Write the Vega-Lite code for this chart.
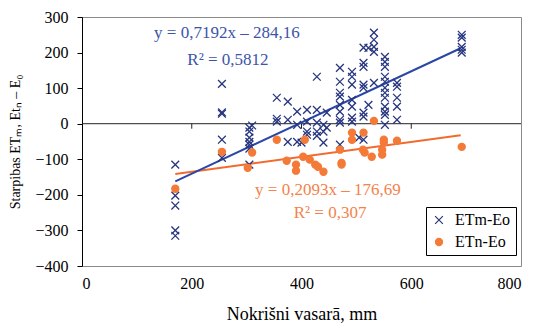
{
  "$schema": "https://vega.github.io/schema/vega-lite/v6.json",
  "width": 439,
  "height": 249,
  "autosize": {"type": "none"},
  "padding": {"left": 82, "top": 17, "right": 15, "bottom": 66},
  "background": "white",
  "config": {
    "view": {"stroke": "#8a8a8a", "strokeWidth": 1},
    "axis": {"grid": false, "labelFont": "Liberation Serif", "labelFontSize": 16, "labelColor": "black", "titleFont": "Liberation Serif", "titleFontSize": 16, "titleFontWeight": "normal", "titleColor": "black", "domainColor": "black", "tickColor": "black"},
    "legend": {"labelFont": "Liberation Serif", "labelFontSize": 16, "labelColor": "black"}
  },
  "datasets": {
    "pts": [
      {"series": "ETm-Eo", "x": 170, "y": -115}, {"series": "ETm-Eo", "x": 170, "y": -202}, {"series": "ETm-Eo", "x": 170, "y": -230}, {"series": "ETm-Eo", "x": 170, "y": -300}, {"series": "ETm-Eo", "x": 170, "y": -315},
      {"series": "ETm-Eo", "x": 255, "y": 112}, {"series": "ETm-Eo", "x": 255, "y": 28}, {"series": "ETm-Eo", "x": 255, "y": 32}, {"series": "ETm-Eo", "x": 255, "y": -45}, {"series": "ETm-Eo", "x": 255, "y": -96},
      {"series": "ETm-Eo", "x": 305, "y": -11}, {"series": "ETm-Eo", "x": 305, "y": -22}, {"series": "ETm-Eo", "x": 305, "y": -39}, {"series": "ETm-Eo", "x": 305, "y": -51}, {"series": "ETm-Eo", "x": 305, "y": -59}, {"series": "ETm-Eo", "x": 305, "y": -70}, {"series": "ETm-Eo", "x": 305, "y": -115},
      {"series": "ETm-Eo", "x": 310, "y": -5},
      {"series": "ETm-Eo", "x": 355, "y": 73}, {"series": "ETm-Eo", "x": 355, "y": 14}, {"series": "ETm-Eo", "x": 355, "y": 6},
      {"series": "ETm-Eo", "x": 375, "y": 62}, {"series": "ETm-Eo", "x": 375, "y": 11}, {"series": "ETm-Eo", "x": 375, "y": -51},
      {"series": "ETm-Eo", "x": 392, "y": 34}, {"series": "ETm-Eo", "x": 392, "y": -3}, {"series": "ETm-Eo", "x": 392, "y": -51},
      {"series": "ETm-Eo", "x": 400, "y": -53},
      {"series": "ETm-Eo", "x": 410, "y": 39}, {"series": "ETm-Eo", "x": 410, "y": 6}, {"series": "ETm-Eo", "x": 410, "y": -22}, {"series": "ETm-Eo", "x": 410, "y": -31},
      {"series": "ETm-Eo", "x": 428, "y": 132}, {"series": "ETm-Eo", "x": 428, "y": 39}, {"series": "ETm-Eo", "x": 428, "y": 3}, {"series": "ETm-Eo", "x": 428, "y": -22}, {"series": "ETm-Eo", "x": 428, "y": -34},
      {"series": "ETm-Eo", "x": 440, "y": -22}, {"series": "ETm-Eo", "x": 440, "y": -3}, {"series": "ETm-Eo", "x": 440, "y": -53},
      {"series": "ETm-Eo", "x": 446, "y": 31}, {"series": "ETm-Eo", "x": 446, "y": -11},
      {"series": "ETm-Eo", "x": 470, "y": 157}, {"series": "ETm-Eo", "x": 470, "y": 118}, {"series": "ETm-Eo", "x": 470, "y": 87}, {"series": "ETm-Eo", "x": 470, "y": 76}, {"series": "ETm-Eo", "x": 470, "y": 53}, {"series": "ETm-Eo", "x": 470, "y": 34}, {"series": "ETm-Eo", "x": 470, "y": 11}, {"series": "ETm-Eo", "x": 470, "y": 3}, {"series": "ETm-Eo", "x": 470, "y": -59},
      {"series": "ETm-Eo", "x": 492, "y": 146}, {"series": "ETm-Eo", "x": 492, "y": 132}, {"series": "ETm-Eo", "x": 492, "y": 110}, {"series": "ETm-Eo", "x": 492, "y": 67}, {"series": "ETm-Eo", "x": 492, "y": 48}, {"series": "ETm-Eo", "x": 492, "y": 17}, {"series": "ETm-Eo", "x": 492, "y": 6},
      {"series": "ETm-Eo", "x": 505, "y": -39},
      {"series": "ETm-Eo", "x": 513, "y": 214}, {"series": "ETm-Eo", "x": 513, "y": 171}, {"series": "ETm-Eo", "x": 513, "y": 160}, {"series": "ETm-Eo", "x": 513, "y": 110}, {"series": "ETm-Eo", "x": 513, "y": 101}, {"series": "ETm-Eo", "x": 513, "y": 31}, {"series": "ETm-Eo", "x": 513, "y": 20}, {"series": "ETm-Eo", "x": 513, "y": -45},
      {"series": "ETm-Eo", "x": 522, "y": 213}, {"series": "ETm-Eo", "x": 522, "y": 53},
      {"series": "ETm-Eo", "x": 532, "y": 256}, {"series": "ETm-Eo", "x": 532, "y": 236}, {"series": "ETm-Eo", "x": 532, "y": 216}, {"series": "ETm-Eo", "x": 532, "y": 202}, {"series": "ETm-Eo", "x": 532, "y": 115},
      {"series": "ETm-Eo", "x": 552, "y": 188}, {"series": "ETm-Eo", "x": 552, "y": 174}, {"series": "ETm-Eo", "x": 552, "y": 160}, {"series": "ETm-Eo", "x": 552, "y": 132}, {"series": "ETm-Eo", "x": 552, "y": 118}, {"series": "ETm-Eo", "x": 552, "y": 101}, {"series": "ETm-Eo", "x": 552, "y": 87}, {"series": "ETm-Eo", "x": 552, "y": 73}, {"series": "ETm-Eo", "x": 552, "y": 48}, {"series": "ETm-Eo", "x": 552, "y": 34}, {"series": "ETm-Eo", "x": 552, "y": 25}, {"series": "ETm-Eo", "x": 552, "y": -3},
      {"series": "ETm-Eo", "x": 574, "y": 115}, {"series": "ETm-Eo", "x": 574, "y": 104}, {"series": "ETm-Eo", "x": 574, "y": 73}, {"series": "ETm-Eo", "x": 574, "y": 48}, {"series": "ETm-Eo", "x": 574, "y": 11},
      {"series": "ETm-Eo", "x": 692, "y": 250}, {"series": "ETm-Eo", "x": 692, "y": 242}, {"series": "ETm-Eo", "x": 692, "y": 216}, {"series": "ETm-Eo", "x": 692, "y": 208}, {"series": "ETm-Eo", "x": 692, "y": 200},
      {"series": "ETn-Eo", "x": 170, "y": -183}, {"series": "ETn-Eo", "x": 255, "y": -79}, {"series": "ETn-Eo", "x": 302, "y": -124}, {"series": "ETn-Eo", "x": 310, "y": -81},
      {"series": "ETn-Eo", "x": 355, "y": -45}, {"series": "ETn-Eo", "x": 373, "y": -104}, {"series": "ETn-Eo", "x": 390, "y": -115}, {"series": "ETn-Eo", "x": 390, "y": -132},
      {"series": "ETn-Eo", "x": 403, "y": -93}, {"series": "ETn-Eo", "x": 406, "y": -45}, {"series": "ETn-Eo", "x": 415, "y": -101}, {"series": "ETn-Eo", "x": 425, "y": -115},
      {"series": "ETn-Eo", "x": 430, "y": -121}, {"series": "ETn-Eo", "x": 440, "y": -135}, {"series": "ETn-Eo", "x": 470, "y": -73}, {"series": "ETn-Eo", "x": 473, "y": -110},
      {"series": "ETn-Eo", "x": 473, "y": -115}, {"series": "ETn-Eo", "x": 492, "y": -25}, {"series": "ETn-Eo", "x": 492, "y": -45}, {"series": "ETn-Eo", "x": 513, "y": -25},
      {"series": "ETn-Eo", "x": 512, "y": -73}, {"series": "ETn-Eo", "x": 515, "y": -81}, {"series": "ETn-Eo", "x": 528, "y": -93}, {"series": "ETn-Eo", "x": 532, "y": 8},
      {"series": "ETn-Eo", "x": 547, "y": -73}, {"series": "ETn-Eo", "x": 547, "y": -87}, {"series": "ETn-Eo", "x": 550, "y": -45}, {"series": "ETn-Eo", "x": 550, "y": -53},
      {"series": "ETn-Eo", "x": 574, "y": -48}, {"series": "ETn-Eo", "x": 692, "y": -65}
    ],
    "fits": [
      {"series": "ETm-Eo", "x": 170, "y": -161.9}, {"series": "ETm-Eo", "x": 690, "y": 212.1},
      {"series": "ETn-Eo", "x": 170, "y": -141.1}, {"series": "ETn-Eo", "x": 690, "y": -32.3}
    ],
    "notes": [
      {"series": "ETm-Eo", "x": 264, "y": 256, "label": "y = 0,7192x – 284,16"},
      {"series": "ETm-Eo", "x": 266, "y": 180, "label": "R² = 0,5812"},
      {"series": "ETn-Eo", "x": 448, "y": -186, "label": "y = 0,2093x – 176,69"},
      {"series": "ETn-Eo", "x": 452, "y": -250, "label": "R² = 0,307"}
    ],
    "zero": [{"y": 0}],
    "zticks": [{"x": 200, "y": 0, "y2": -14}, {"x": 400, "y": 0, "y2": -14}, {"x": 600, "y": 0, "y2": -14}]
  },
  "encoding": {
    "x": {"field": "x", "type": "quantitative", "scale": {"domain": [0, 800], "nice": false}, "axis": {"values": [0, 200, 400, 600, 800], "domain": false, "ticks": false, "labelPadding": 9, "title": "Nokrišni vasarā, mm", "titleFontSize": 18, "titlePadding": 14}},
    "y": {"field": "y", "type": "quantitative", "scale": {"domain": [-400, 300], "nice": false}, "axis": {"values": [-400, -300, -200, -100, 0, 100, 200, 300], "tickSize": 5, "labelPadding": 9, "title": "Starpibas ETₘ, Etₙ – E₀", "titleFontSize": 14, "titlePadding": 12}}
  },
  "layer": [
    {"data": {"name": "zero"}, "mark": {"type": "rule", "color": "#222", "strokeWidth": 1}, "encoding": {"x": null, "y": {"field": "y", "type": "quantitative"}}},
    {"data": {"name": "zticks"}, "mark": {"type": "rule", "color": "#222", "strokeWidth": 1}, "encoding": {"y2": {"field": "y2"}}},
    {"data": {"name": "fits"}, "transform": [{"filter": "datum.series === 'ETn-Eo'"}], "mark": {"type": "line", "color": "#f26b2e", "strokeWidth": 2}, "encoding": {}},
    {"data": {"name": "fits"}, "transform": [{"filter": "datum.series === 'ETm-Eo'"}], "mark": {"type": "line", "color": "#2a47a6", "strokeWidth": 2}, "encoding": {}},
    {"data": {"name": "pts"}, "mark": {"type": "point", "filled": true, "size": 50, "strokeWidth": 1.3, "opacity": 1},
     "encoding": {
       "fill": {"field": "series", "type": "nominal", "scale": {"domain": ["ETm-Eo", "ETn-Eo"], "range": ["#27367f", "#f47a38"]}, "legend": {"title": null, "orient": "none", "legendX": 344, "legendY": 190, "fillColor": "white", "strokeColor": "black", "padding": 5, "rowPadding": 6, "labelOffset": 8, "symbolSize": 50, "symbolStrokeWidth": 1.2}},
       "stroke": {"field": "series", "type": "nominal", "scale": {"domain": ["ETm-Eo", "ETn-Eo"], "range": ["#27367f", "#f47a38"]}, "legend": {"title": null, "orient": "none", "legendX": 344, "legendY": 190, "fillColor": "white", "strokeColor": "black", "padding": 5, "rowPadding": 6, "labelOffset": 8, "symbolSize": 50, "symbolStrokeWidth": 1.2}},
       "shape": {"field": "series", "type": "nominal", "scale": {"domain": ["ETm-Eo", "ETn-Eo"], "range": ["M-1.1,-1.1L1.1,1.1M1.1,-1.1L-1.1,1.1", "circle"]}, "legend": {"title": null, "orient": "none", "legendX": 344, "legendY": 190, "fillColor": "white", "strokeColor": "black", "padding": 5, "rowPadding": 6, "labelOffset": 8, "symbolSize": 50, "symbolStrokeWidth": 1.2}}
     }},
    {"data": {"name": "notes"}, "mark": {"type": "text", "font": "Liberation Serif", "fontSize": 17, "align": "center", "baseline": "middle"},
     "encoding": {"text": {"field": "label"}, "color": {"field": "series", "type": "nominal", "scale": {"domain": ["ETm-Eo", "ETn-Eo"], "range": ["#3b55a8", "#f4824a"]}, "legend": null}}}
  ]
}
